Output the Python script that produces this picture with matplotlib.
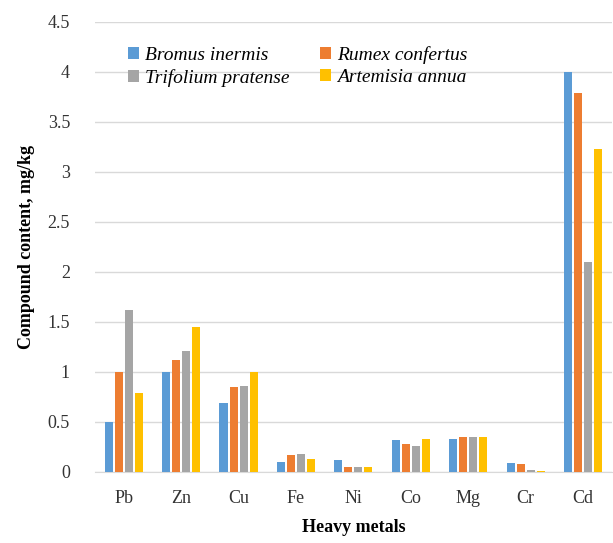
import matplotlib
matplotlib.use('Agg')
import matplotlib.pyplot as plt
import numpy as np

plt.rcParams['font.family'] = ['Liberation Serif', 'DejaVu Serif']

metals = ['Pb', 'Zn', 'Cu', 'Fe', 'Ni', 'Co', 'Mg', 'Cr', 'Cd']
bromus = [0.50, 1.00, 0.69, 0.10, 0.12, 0.32, 0.33, 0.09, 4.00]
rumex = [1.00, 1.12, 0.85, 0.17, 0.05, 0.28, 0.35, 0.08, 3.79]
trifolium = [1.62, 1.21, 0.86, 0.18, 0.05, 0.26, 0.35, 0.02, 2.10]
artemisia = [0.79, 1.45, 1.00, 0.13, 0.05, 0.33, 0.35, 0.01, 3.23]

series = [bromus, rumex, trifolium, artemisia]
names = ['Bromus inermis', 'Rumex confertus', 'Trifolium pratense', 'Artemisia annua']
colors = ['#5B9BD5', '#ED7D31', '#A5A5A5', '#FFC000']

fig = plt.figure(figsize=(6.13, 5.43), dpi=100)
ax = fig.add_axes([0.155, 0.131, 0.843, 0.829])

x = np.arange(len(metals))
slot = 0.175
handles = []
for i, (vals, name, c) in enumerate(zip(series, names, colors)):
    h = ax.bar(x + (i - 1.5) * slot, vals, width=0.14, color=c, label=name, zorder=3)
    handles.append(h)

ax.set_ylim(0, 4.5)
ax.set_xlim(-0.5, len(metals) - 0.5)
ax.set_yticks(np.arange(0, 4.51, 0.5))
ax.set_yticklabels(['0', '0.5', '1', '1.5', '2', '2.5', '3', '3.5', '4', '4.5'])
ax.set_xticks(x)
ax.set_xticklabels(metals)
ax.tick_params(axis='y', length=0, labelsize=13, colors='#333333', pad=18)
ax.tick_params(axis='x', length=0, labelsize=13, colors='#333333', pad=13)
ax.grid(axis='y', color='#D9D9D9', linewidth=1, zorder=0)
for s in ['top', 'right', 'left']:
    ax.spines[s].set_visible(False)
ax.spines['bottom'].set_color('#D9D9D9')

ax.set_ylabel('Compound content, mg/kg', fontsize=13, fontweight='bold', labelpad=9)
ax.set_xlabel('Heavy metals', fontsize=13, fontweight='bold', labelpad=9)

# row-wise order like the original: Bromus, Rumex / Trifolium, Artemisia
order = [0, 2, 1, 3]
ax.legend([handles[k] for k in order], [names[k] for k in order],
          ncol=2, loc='upper left', bbox_to_anchor=(0.03, 0.985), frameon=False,
          prop={'style': 'italic', 'size': 14}, handlelength=0.55, handleheight=0.55,
          columnspacing=1.6, handletextpad=0.3, labelspacing=0.25)

fig.savefig('out.png', dpi=100)
